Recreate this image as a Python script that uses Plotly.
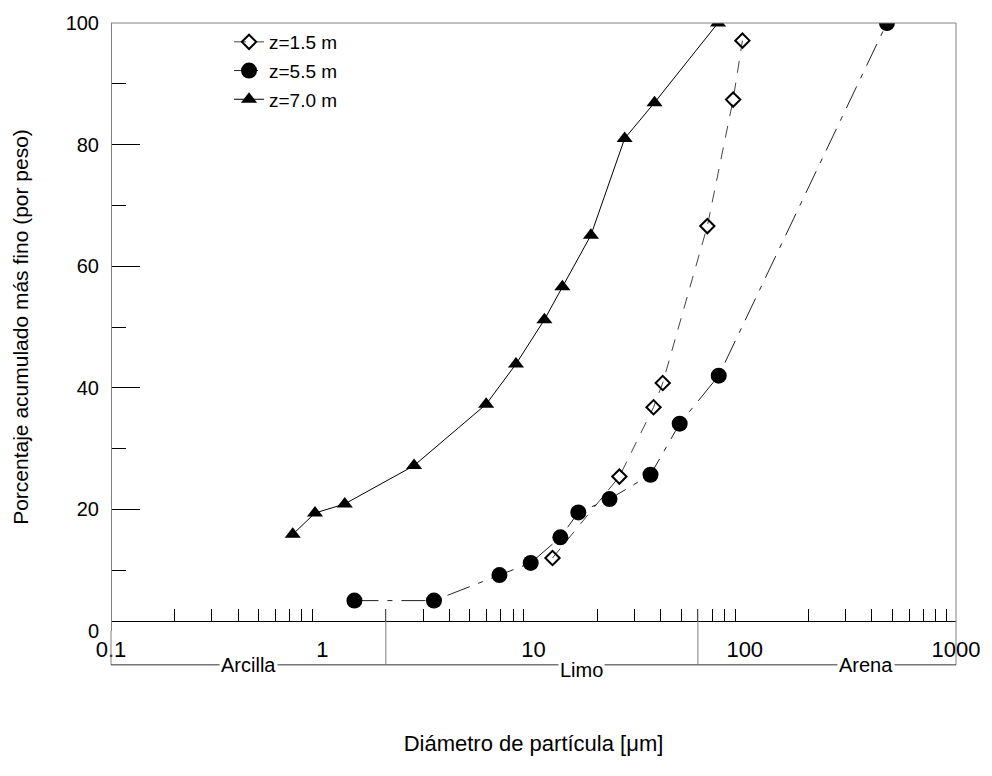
import math
import plotly.graph_objects as go

# ---- data ----
d15 = [12.3, 25.5, 37.0, 40.9, 66.5, 88.1, 97.5]
p15 = [12.0, 25.4, 36.8, 40.8, 66.6, 87.4, 97.1]

d55 = [1.42, 3.38, 6.90, 9.7, 13.4, 16.3, 22.9, 35.8, 49.2, 75.3, 471]
p55 = [5.0, 5.0, 9.2, 11.2, 15.4, 19.5, 21.7, 25.7, 34.1, 42.0, 100]

d70 = [0.725, 0.924, 1.278, 2.72, 5.97, 8.26, 11.26, 13.7, 18.7, 27.0, 37.4, 74.7]
p70 = [15.9, 19.4, 20.9, 27.2, 37.3, 43.9, 51.2, 56.6, 65.1, 81.0, 86.9, 100]

x_tickvals = [0.1, 1, 10, 100, 1000]
x_ticktext = ["0.1", "1", "10", "100", "1000"]
x_minor = [m * 10.0 ** e for e in range(-1, 3) for m in range(2, 10)]
y_tickvals = [0, 20, 40, 60, 80, 100]
y_minor = [10, 30, 50, 70, 90]

class_bounds = [2, 60]
class_names = ["Arcilla", "Limo", "Arena"]
class_centers = [0.45, 16.8, 375]

FONT = "Liberation Sans, Arial, sans-serif"

fig = go.Figure()
fig.add_trace(go.Scatter(
    x=d15, y=p15, mode="lines+markers", name="z=1.5 m",
    line=dict(color="#444444", width=1, dash="12px,10px"),
    marker=dict(symbol="diamond-open", size=11, color="black", line=dict(width=2, color="black")),
    legendgroup="a"))
fig.add_trace(go.Scatter(
    x=d55, y=p55, mode="lines+markers", name="z=5.5 m",
    line=dict(color="#222222", width=1, dash="24px,9px,5px,9px"),
    marker=dict(symbol="circle", size=16, color="black"),
    legendgroup="b"))
fig.add_trace(go.Scatter(
    x=d70, y=p70, mode="lines+markers", name="z=7.0 m",
    line=dict(color="black", width=1),
    marker=dict(symbol="triangle-up", size=14, color="black"),
    legendgroup="c"))

W, H = 992, 776
L, R, T, B = 111, 29, 20, 145
ph = H - T - B
xaxis_pos = 10 / ph           # x axis line sits slightly above y=0
ybot = -(665 - 631) / ph      # bottom of the class box
ytick_top = (631 - 609) / ph

shapes = [
    dict(type="line", xref="paper", yref="paper", x0=0, x1=1, y0=1, y1=1,
         line=dict(color="#808080", width=1)),
    dict(type="line", xref="paper", yref="paper", x0=1, x1=1, y0=1, y1=ybot,
         line=dict(color="#808080", width=1)),
    dict(type="line", xref="paper", yref="paper", x0=0, x1=0, y0=0, y1=ybot,
         line=dict(color="#808080", width=1)),
    dict(type="line", xref="paper", yref="paper", x0=0, x1=1, y0=ybot, y1=ybot,
         line=dict(color="#333333", width=1)),
]
for b in class_bounds:
    shapes.append(dict(type="line", xref="x", yref="paper", x0=b, x1=b,
                       y0=ytick_top, y1=ybot, line=dict(color="#808080", width=1)))

annotations = []
for name, c in zip(class_names, class_centers):
    dy = -5 if name == "Limo" else 0
    annotations.append(dict(x=math.log10(c), xref="x", y=ybot, yref="paper", text=name,
                            showarrow=False, bgcolor="white", yshift=dy,
                            xanchor="center", yanchor="middle",
                            font=dict(family=FONT, size=20, color="black"),
                            borderpad=1))

fig.update_layout(
    width=W, height=H,
    margin=dict(l=L, r=R, t=T, b=B),
    paper_bgcolor="white", plot_bgcolor="white",
    showlegend=True,
    legend=dict(x=(230 - L) / (W - L - R), y=(631 - 20) / ph, xanchor="left", yanchor="top",
                font=dict(family=FONT, size=19, color="black"),
                bgcolor="rgba(0,0,0,0)", traceorder="grouped", tracegroupgap=1,
                itemwidth=30),
    xaxis=dict(type="log", range=[-1, 3], anchor="free", position=xaxis_pos,
               showline=True, linecolor="black", linewidth=1,
               showgrid=False, zeroline=False,
               tickmode="array", tickvals=x_tickvals, ticktext=x_ticktext, ticks="",
               tickfont=dict(family=FONT, size=22, color="black"),
               ticklabelstandoff=9,
               minor=dict(tickmode="array", tickvals=x_minor, ticks="inside", ticklen=12,
                          tickcolor="black", tickwidth=1, showgrid=False),
               title=dict(text="Diámetro de partícula [μm]", standoff=74,
                          font=dict(family=FONT, size=22, color="black"))),
    yaxis=dict(range=[0, 100], anchor="free", position=0,
               showline=True, linecolor="#808080", linewidth=1,
               showgrid=False, zeroline=False,
               tickmode="array", tickvals=y_tickvals, ticks="inside", ticklen=28,
               tickcolor="black", tickwidth=1,
               tickfont=dict(family=FONT, size=20, color="black"),
               ticklabelstandoff=8,
               minor=dict(tickmode="array", tickvals=y_minor, ticks="inside", ticklen=14,
                          tickcolor="black", tickwidth=1, showgrid=False),
               title=dict(text="Porcentaje acumulado más fino (por peso)", standoff=30,
                          font=dict(family=FONT, size=21, color="black"))),
    shapes=shapes,
    annotations=annotations,
)

fig.write_html("out.html")
